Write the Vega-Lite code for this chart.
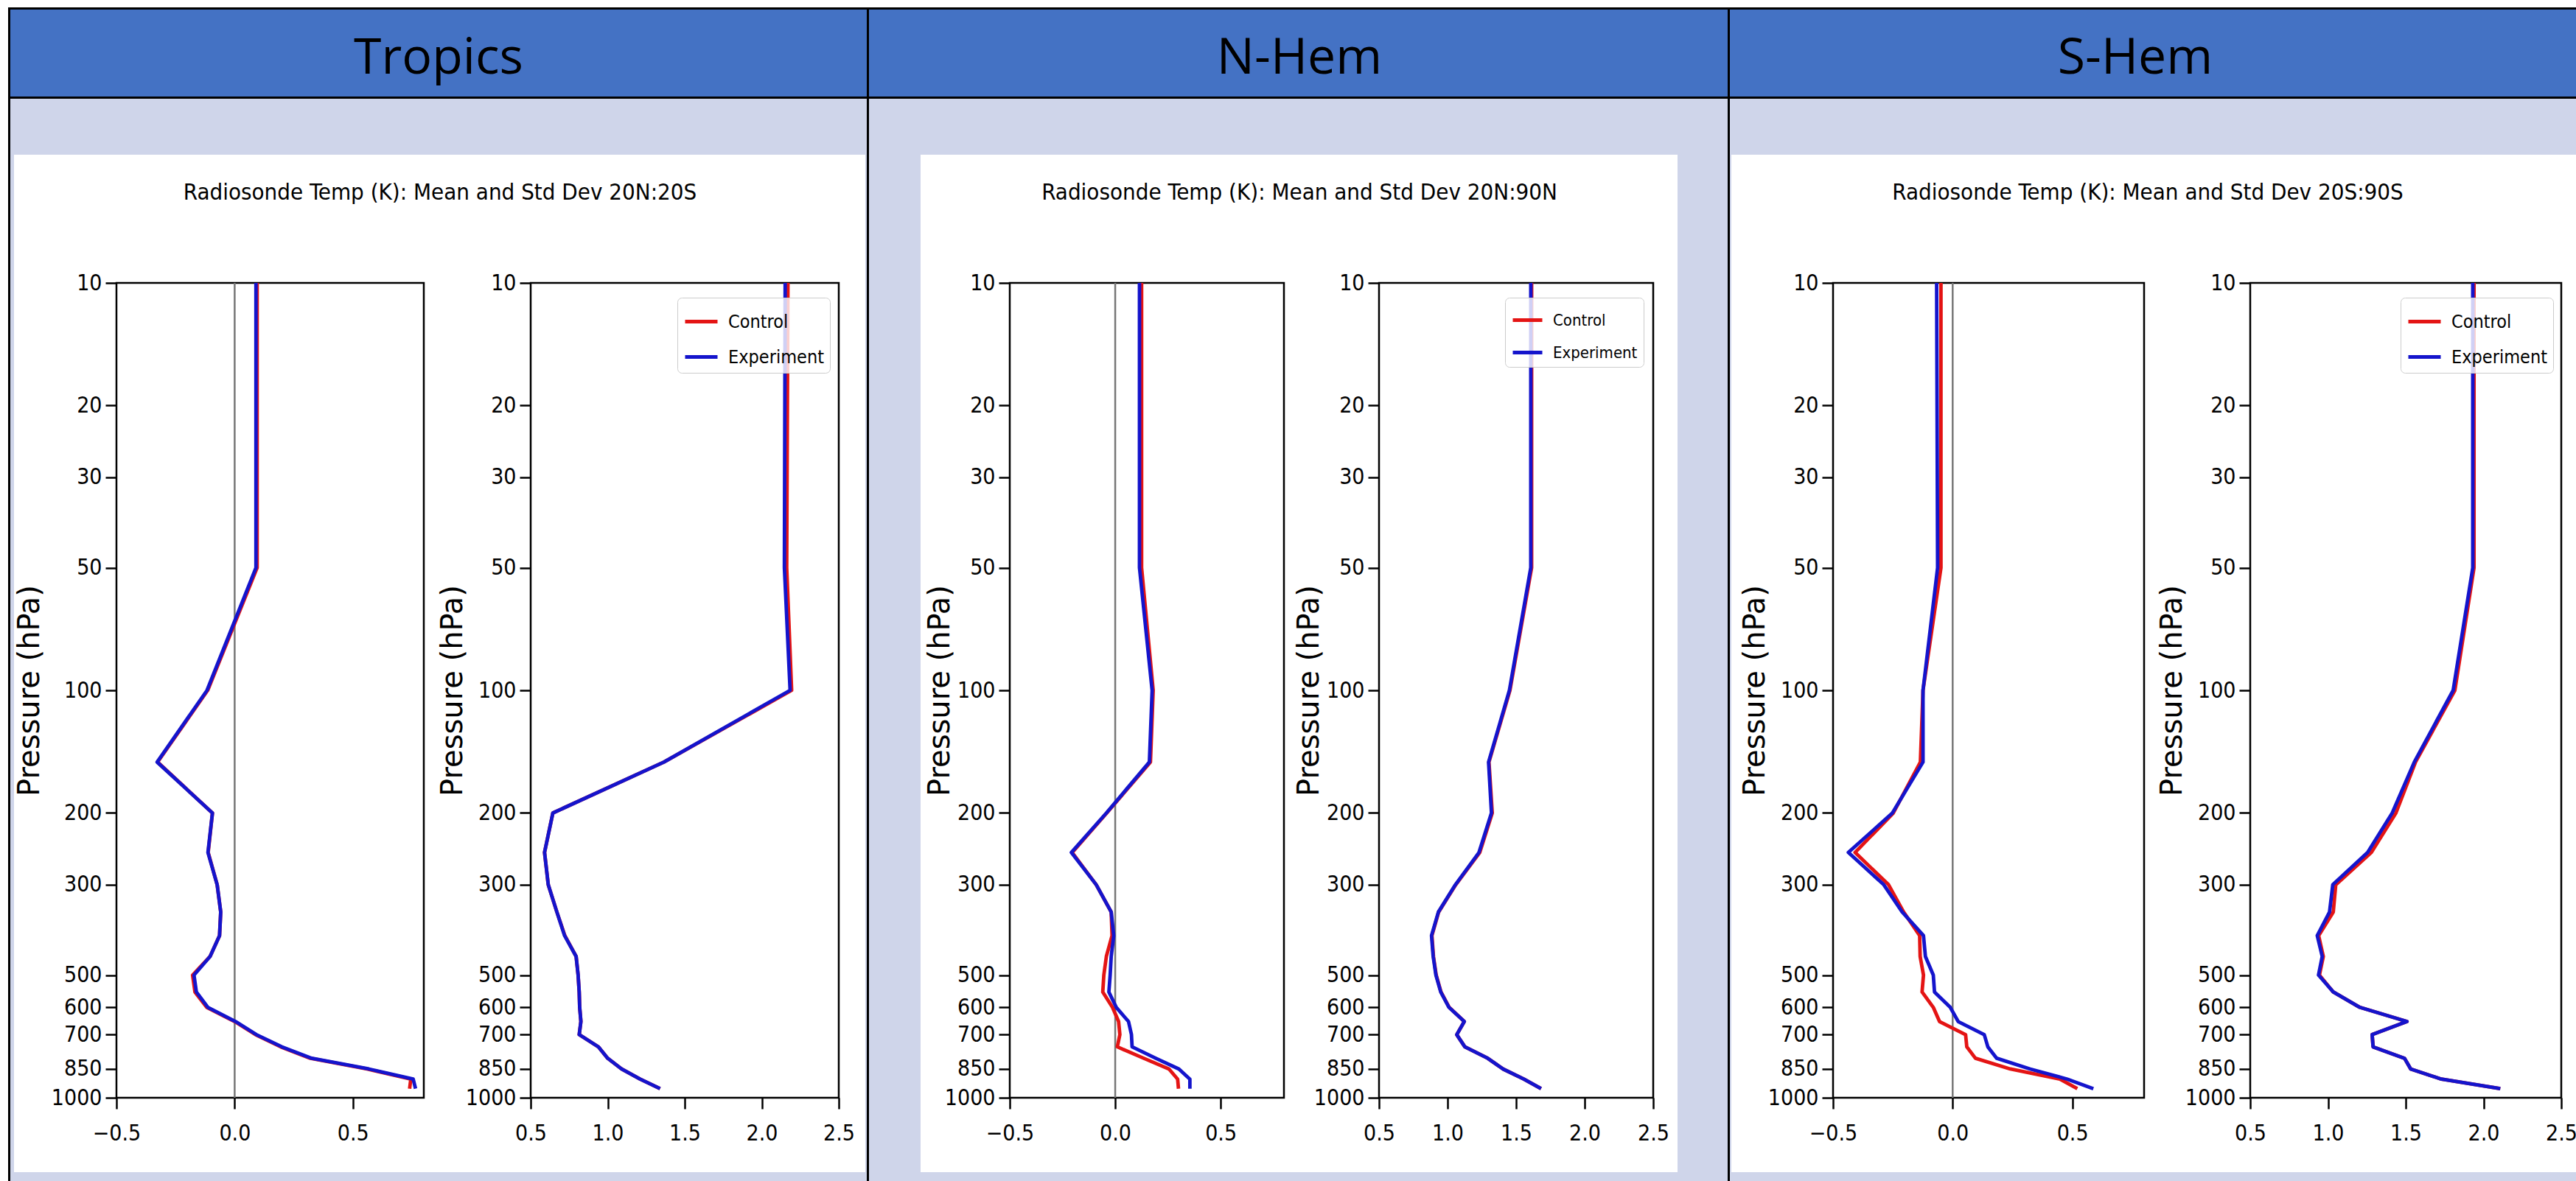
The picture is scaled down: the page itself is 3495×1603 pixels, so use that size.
{
  "$schema": "https://vega.github.io/schema/vega-lite/v6.json",
  "background": "white",
  "padding": {"left": 11, "top": 10, "right": 0, "bottom": 0},
  "columns": 23,
  "spacing": 0,
  "bounds": "flush",
  "align": "each",
  "resolve": {"scale": {"color": "independent"}, "legend": {"color": "independent"}},
  "config": {
    "view": {"stroke": null},
    "axis": {
      "labelFont": "Liberation Sans Narrow, DejaVu Sans Condensed, Arial Narrow, sans-serif",
      "labelFontSize": 30, "labelColor": "#000", "tickColor": "#000", "tickWidth": 2.5, "tickSize": 15,
      "domain": false, "grid": false, "labelFlush": false, "labelOverlap": false,
      "titleFont": "DejaVu Sans", "titleFontSize": 40, "titleFontWeight": "normal", "titleColor": "#000"
    },
    "axisX": {"labelPadding": 18},
    "axisY": {"labelPadding": 5},
    "legend": {
      "symbolType": "stroke", "symbolSize": 1936, "symbolStrokeWidth": 4.8,
      "labelFont": "Liberation Sans Narrow, DejaVu Sans Condensed, Arial Narrow, sans-serif",
      "labelFontSize": 25, "labelColor": "#000", "labelOffset": 12, "rowPadding": 10, "padding": 8,
      "strokeColor": "#cccccc", "fillColor": "rgba(255,255,255,0.8)", "cornerRadius": 6
    }
  },
  "datasets": {
    "tropics": [
      {"p":10,"run":"Control","mean":0.095,"sd":2.170},{"p":10,"run":"Experiment","mean":0.090,"sd":2.152},
      {"p":50,"run":"Control","mean":0.095,"sd":2.162},{"p":50,"run":"Experiment","mean":0.090,"sd":2.147},
      {"p":100,"run":"Control","mean":-0.114,"sd":2.194},{"p":100,"run":"Experiment","mean":-0.117,"sd":2.184},
      {"p":150,"run":"Control","mean":-0.326,"sd":1.365},{"p":150,"run":"Experiment","mean":-0.328,"sd":1.365},
      {"p":200,"run":"Control","mean":-0.094,"sd":0.644},{"p":200,"run":"Experiment","mean":-0.094,"sd":0.644},
      {"p":250,"run":"Control","mean":-0.112,"sd":0.590},{"p":250,"run":"Experiment","mean":-0.113,"sd":0.590},
      {"p":300,"run":"Control","mean":-0.074,"sd":0.614},{"p":300,"run":"Experiment","mean":-0.074,"sd":0.614},
      {"p":350,"run":"Control","mean":-0.059,"sd":0.670},{"p":350,"run":"Experiment","mean":-0.059,"sd":0.670},
      {"p":400,"run":"Control","mean":-0.064,"sd":0.722},{"p":400,"run":"Experiment","mean":-0.064,"sd":0.720},
      {"p":450,"run":"Control","mean":-0.104,"sd":0.795},{"p":450,"run":"Experiment","mean":-0.104,"sd":0.795},
      {"p":500,"run":"Control","mean":-0.178,"sd":0.808},{"p":500,"run":"Experiment","mean":-0.172,"sd":0.808},
      {"p":550,"run":"Control","mean":-0.168,"sd":0.815},{"p":550,"run":"Experiment","mean":-0.162,"sd":0.815},
      {"p":600,"run":"Control","mean":-0.118,"sd":0.818},{"p":600,"run":"Experiment","mean":-0.113,"sd":0.818},
      {"p":650,"run":"Control","mean":0.000,"sd":0.826},{"p":650,"run":"Experiment","mean":0.004,"sd":0.826},
      {"p":700,"run":"Control","mean":0.088,"sd":0.815},{"p":700,"run":"Experiment","mean":0.092,"sd":0.815},
      {"p":750,"run":"Control","mean":0.195,"sd":0.940},{"p":750,"run":"Experiment","mean":0.200,"sd":0.940},
      {"p":800,"run":"Control","mean":0.320,"sd":1.000},{"p":800,"run":"Experiment","mean":0.326,"sd":1.000},
      {"p":850,"run":"Control","mean":0.560,"sd":1.090},{"p":850,"run":"Experiment","mean":0.568,"sd":1.090},
      {"p":900,"run":"Control","mean":0.745,"sd":1.210},{"p":900,"run":"Experiment","mean":0.755,"sd":1.210},
      {"p":950,"run":"Control","mean":0.740,"sd":1.340},{"p":950,"run":"Experiment","mean":0.765,"sd":1.340}
    ],
    "nhem": [
      {"p":10,"run":"Control","mean":0.125,"sd":1.613},{"p":10,"run":"Experiment","mean":0.115,"sd":1.607},
      {"p":50,"run":"Control","mean":0.125,"sd":1.613},{"p":50,"run":"Experiment","mean":0.115,"sd":1.607},
      {"p":100,"run":"Control","mean":0.180,"sd":1.455},{"p":100,"run":"Experiment","mean":0.175,"sd":1.451},
      {"p":150,"run":"Control","mean":0.167,"sd":1.302},{"p":150,"run":"Experiment","mean":0.162,"sd":1.299},
      {"p":200,"run":"Control","mean":-0.040,"sd":1.326},{"p":200,"run":"Experiment","mean":-0.042,"sd":1.320},
      {"p":250,"run":"Control","mean":-0.204,"sd":1.235},{"p":250,"run":"Experiment","mean":-0.208,"sd":1.229},
      {"p":300,"run":"Control","mean":-0.090,"sd":1.060},{"p":300,"run":"Experiment","mean":-0.090,"sd":1.057},
      {"p":350,"run":"Control","mean":-0.019,"sd":0.935},{"p":350,"run":"Experiment","mean":-0.019,"sd":0.933},
      {"p":400,"run":"Control","mean":-0.015,"sd":0.886},{"p":400,"run":"Experiment","mean":-0.007,"sd":0.883},
      {"p":450,"run":"Control","mean":-0.042,"sd":0.897},{"p":450,"run":"Experiment","mean":-0.019,"sd":0.895},
      {"p":500,"run":"Control","mean":-0.054,"sd":0.917},{"p":500,"run":"Experiment","mean":-0.024,"sd":0.915},
      {"p":550,"run":"Control","mean":-0.059,"sd":0.952},{"p":550,"run":"Experiment","mean":-0.030,"sd":0.950},
      {"p":600,"run":"Control","mean":-0.013,"sd":1.012},{"p":600,"run":"Experiment","mean":0.005,"sd":1.010},
      {"p":650,"run":"Control","mean":0.016,"sd":1.122},{"p":650,"run":"Experiment","mean":0.063,"sd":1.122},
      {"p":700,"run":"Control","mean":0.022,"sd":1.067},{"p":700,"run":"Experiment","mean":0.077,"sd":1.067},
      {"p":750,"run":"Control","mean":0.010,"sd":1.126},{"p":750,"run":"Experiment","mean":0.080,"sd":1.126},
      {"p":800,"run":"Control","mean":0.135,"sd":1.293},{"p":800,"run":"Experiment","mean":0.192,"sd":1.293},
      {"p":850,"run":"Control","mean":0.255,"sd":1.405},{"p":850,"run":"Experiment","mean":0.302,"sd":1.405},
      {"p":900,"run":"Control","mean":0.296,"sd":1.556},{"p":900,"run":"Experiment","mean":0.354,"sd":1.556},
      {"p":950,"run":"Control","mean":0.300,"sd":1.682},{"p":950,"run":"Experiment","mean":0.354,"sd":1.682}
    ],
    "shem": [
      {"p":10,"run":"Control","mean":-0.049,"sd":1.939},{"p":10,"run":"Experiment","mean":-0.067,"sd":1.931},
      {"p":50,"run":"Control","mean":-0.049,"sd":1.939},{"p":50,"run":"Experiment","mean":-0.063,"sd":1.931},
      {"p":100,"run":"Control","mean":-0.124,"sd":1.816},{"p":100,"run":"Experiment","mean":-0.124,"sd":1.805},
      {"p":150,"run":"Control","mean":-0.135,"sd":1.563},{"p":150,"run":"Experiment","mean":-0.124,"sd":1.555},
      {"p":200,"run":"Control","mean":-0.248,"sd":1.437},{"p":200,"run":"Experiment","mean":-0.252,"sd":1.413},
      {"p":250,"run":"Control","mean":-0.408,"sd":1.279},{"p":250,"run":"Experiment","mean":-0.436,"sd":1.255},
      {"p":300,"run":"Control","mean":-0.268,"sd":1.050},{"p":300,"run":"Experiment","mean":-0.288,"sd":1.031},
      {"p":350,"run":"Control","mean":-0.205,"sd":1.034},{"p":350,"run":"Experiment","mean":-0.211,"sd":1.010},
      {"p":400,"run":"Control","mean":-0.138,"sd":0.940},{"p":400,"run":"Experiment","mean":-0.122,"sd":0.931},
      {"p":450,"run":"Control","mean":-0.136,"sd":0.970},{"p":450,"run":"Experiment","mean":-0.114,"sd":0.963},
      {"p":500,"run":"Control","mean":-0.122,"sd":0.945},{"p":500,"run":"Experiment","mean":-0.081,"sd":0.939},
      {"p":550,"run":"Control","mean":-0.128,"sd":1.034},{"p":550,"run":"Experiment","mean":-0.076,"sd":1.034},
      {"p":600,"run":"Control","mean":-0.081,"sd":1.205},{"p":600,"run":"Experiment","mean":-0.010,"sd":1.205},
      {"p":650,"run":"Control","mean":-0.055,"sd":1.508},{"p":650,"run":"Experiment","mean":0.023,"sd":1.508},
      {"p":700,"run":"Control","mean":0.054,"sd":1.284},{"p":700,"run":"Experiment","mean":0.132,"sd":1.284},
      {"p":750,"run":"Control","mean":0.059,"sd":1.290},{"p":750,"run":"Experiment","mean":0.147,"sd":1.290},
      {"p":800,"run":"Control","mean":0.095,"sd":1.492},{"p":800,"run":"Experiment","mean":0.184,"sd":1.492},
      {"p":850,"run":"Control","mean":0.241,"sd":1.532},{"p":850,"run":"Experiment","mean":0.324,"sd":1.532},
      {"p":900,"run":"Control","mean":0.448,"sd":1.729},{"p":900,"run":"Experiment","mean":0.479,"sd":1.729},
      {"p":950,"run":"Control","mean":0.521,"sd":2.108},{"p":950,"run":"Experiment","mean":0.588,"sd":2.108}
    ]
  },
  "concat": [
    {"width":3,"height":3,"data":{"values":[]},"mark":"rect","view":{"fill":"#000"}},
    {"width":5,"height":3,"data":{"values":[]},"mark":"rect","view":{"fill":"#000"}},
    {"width":139,"height":3,"data":{"values":[]},"mark":"rect","view":{"fill":"#000"}},
    {"width":417,"height":3,"data":{"values":[]},"mark":"rect","view":{"fill":"#000"}},
    {"width":145,"height":3,"data":{"values":[]},"mark":"rect","view":{"fill":"#000"}},
    {"width":418,"height":3,"data":{"values":[]},"mark":"rect","view":{"fill":"#000"}},
    {"width":36,"height":3,"data":{"values":[]},"mark":"rect","view":{"fill":"#000"}},
    {"width":2,"height":3,"data":{"values":[]},"mark":"rect","view":{"fill":"#000"}},
    {"width":3,"height":3,"data":{"values":[]},"mark":"rect","view":{"fill":"#000"}},
    {"width":70,"height":3,"data":{"values":[]},"mark":"rect","view":{"fill":"#000"}},
    {"width":121,"height":3,"data":{"values":[]},"mark":"rect","view":{"fill":"#000"}},
    {"width":372,"height":3,"data":{"values":[]},"mark":"rect","view":{"fill":"#000"}},
    {"width":129,"height":3,"data":{"values":[]},"mark":"rect","view":{"fill":"#000"}},
    {"width":372,"height":3,"data":{"values":[]},"mark":"rect","view":{"fill":"#000"}},
    {"width":33,"height":3,"data":{"values":[]},"mark":"rect","view":{"fill":"#000"}},
    {"width":68,"height":3,"data":{"values":[]},"mark":"rect","view":{"fill":"#000"}},
    {"width":3,"height":3,"data":{"values":[]},"mark":"rect","view":{"fill":"#000"}},
    {"width":2,"height":3,"data":{"values":[]},"mark":"rect","view":{"fill":"#000"}},
    {"width":138,"height":3,"data":{"values":[]},"mark":"rect","view":{"fill":"#000"}},
    {"width":422,"height":3,"data":{"values":[]},"mark":"rect","view":{"fill":"#000"}},
    {"width":144,"height":3,"data":{"values":[]},"mark":"rect","view":{"fill":"#000"}},
    {"width":422,"height":3,"data":{"values":[]},"mark":"rect","view":{"fill":"#000"}},
    {"width":20,"height":3,"data":{"values":[]},"mark":"rect","view":{"fill":"#000"}},

    {"width":3,"height":118,"data":{"values":[]},"mark":"rect","view":{"fill":"#000"}},
    {"width":5,"height":118,"data":{"values":[]},"mark":"rect","view":{"fill":"#4472C4"}},
    {"width":139,"height":118,"data":{"values":[]},"mark":"rect","view":{"fill":"#4472C4"}},
    {"width":417,"height":118,"data":{"values":[]},"mark":"rect","view":{"fill":"#4472C4"}},
    {"width":145,"height":118,"data":{"values":[{"label":"Tropics"}]},"mark":{"type":"text","font":"Open Sans","fontSize":68,"color":"#000","baseline":"alphabetic","dx":-52.5,"dy":28},"encoding":{"text":{"field":"label"}},"view":{"fill":"#4472C4"}},
    {"width":418,"height":118,"data":{"values":[]},"mark":"rect","view":{"fill":"#4472C4"}},
    {"width":36,"height":118,"data":{"values":[]},"mark":"rect","view":{"fill":"#4472C4"}},
    {"width":2,"height":118,"data":{"values":[]},"mark":"rect","view":{"fill":"#4472C4"}},
    {"width":3,"height":118,"data":{"values":[]},"mark":"rect","view":{"fill":"#000"}},
    {"width":70,"height":118,"data":{"values":[]},"mark":"rect","view":{"fill":"#4472C4"}},
    {"width":121,"height":118,"data":{"values":[]},"mark":"rect","view":{"fill":"#4472C4"}},
    {"width":372,"height":118,"data":{"values":[]},"mark":"rect","view":{"fill":"#4472C4"}},
    {"width":129,"height":118,"data":{"values":[]},"mark":"rect","view":{"fill":"#4472C4"}},
    {"width":372,"height":118,"data":{"values":[{"label":"N-Hem"}]},"mark":{"type":"text","font":"Open Sans","fontSize":68,"color":"#000","baseline":"alphabetic","dx":-294,"dy":28},"encoding":{"text":{"field":"label"}},"view":{"fill":"#4472C4"}},
    {"width":33,"height":118,"data":{"values":[]},"mark":"rect","view":{"fill":"#4472C4"}},
    {"width":68,"height":118,"data":{"values":[]},"mark":"rect","view":{"fill":"#4472C4"}},
    {"width":3,"height":118,"data":{"values":[]},"mark":"rect","view":{"fill":"#000"}},
    {"width":2,"height":118,"data":{"values":[]},"mark":"rect","view":{"fill":"#4472C4"}},
    {"width":138,"height":118,"data":{"values":[]},"mark":"rect","view":{"fill":"#4472C4"}},
    {"width":422,"height":118,"data":{"values":[]},"mark":"rect","view":{"fill":"#4472C4"}},
    {"width":144,"height":118,"data":{"values":[{"label":"S-Hem"}]},"mark":{"type":"text","font":"Open Sans","fontSize":68,"color":"#000","baseline":"alphabetic","dx":-84,"dy":28},"encoding":{"text":{"field":"label"}},"view":{"fill":"#4472C4"}},
    {"width":422,"height":118,"data":{"values":[]},"mark":"rect","view":{"fill":"#4472C4"}},
    {"width":20,"height":118,"data":{"values":[]},"mark":"rect","view":{"fill":"#4472C4"}},

    {"width":3,"height":3,"data":{"values":[]},"mark":"rect","view":{"fill":"#000"}},
    {"width":5,"height":3,"data":{"values":[]},"mark":"rect","view":{"fill":"#000"}},
    {"width":139,"height":3,"data":{"values":[]},"mark":"rect","view":{"fill":"#000"}},
    {"width":417,"height":3,"data":{"values":[]},"mark":"rect","view":{"fill":"#000"}},
    {"width":145,"height":3,"data":{"values":[]},"mark":"rect","view":{"fill":"#000"}},
    {"width":418,"height":3,"data":{"values":[]},"mark":"rect","view":{"fill":"#000"}},
    {"width":36,"height":3,"data":{"values":[]},"mark":"rect","view":{"fill":"#000"}},
    {"width":2,"height":3,"data":{"values":[]},"mark":"rect","view":{"fill":"#000"}},
    {"width":3,"height":3,"data":{"values":[]},"mark":"rect","view":{"fill":"#000"}},
    {"width":70,"height":3,"data":{"values":[]},"mark":"rect","view":{"fill":"#000"}},
    {"width":121,"height":3,"data":{"values":[]},"mark":"rect","view":{"fill":"#000"}},
    {"width":372,"height":3,"data":{"values":[]},"mark":"rect","view":{"fill":"#000"}},
    {"width":129,"height":3,"data":{"values":[]},"mark":"rect","view":{"fill":"#000"}},
    {"width":372,"height":3,"data":{"values":[]},"mark":"rect","view":{"fill":"#000"}},
    {"width":33,"height":3,"data":{"values":[]},"mark":"rect","view":{"fill":"#000"}},
    {"width":68,"height":3,"data":{"values":[]},"mark":"rect","view":{"fill":"#000"}},
    {"width":3,"height":3,"data":{"values":[]},"mark":"rect","view":{"fill":"#000"}},
    {"width":2,"height":3,"data":{"values":[]},"mark":"rect","view":{"fill":"#000"}},
    {"width":138,"height":3,"data":{"values":[]},"mark":"rect","view":{"fill":"#000"}},
    {"width":422,"height":3,"data":{"values":[]},"mark":"rect","view":{"fill":"#000"}},
    {"width":144,"height":3,"data":{"values":[]},"mark":"rect","view":{"fill":"#000"}},
    {"width":422,"height":3,"data":{"values":[]},"mark":"rect","view":{"fill":"#000"}},
    {"width":20,"height":3,"data":{"values":[]},"mark":"rect","view":{"fill":"#000"}},

    {"width":3,"height":76,"data":{"values":[]},"mark":"rect","view":{"fill":"#000"}},
    {"width":5,"height":76,"data":{"values":[]},"mark":"rect","view":{"fill":"#CFD5EA"}},
    {"width":139,"height":76,"data":{"values":[]},"mark":"rect","view":{"fill":"#CFD5EA"}},
    {"width":417,"height":76,"data":{"values":[]},"mark":"rect","view":{"fill":"#CFD5EA"}},
    {"width":145,"height":76,"data":{"values":[]},"mark":"rect","view":{"fill":"#CFD5EA"}},
    {"width":418,"height":76,"data":{"values":[]},"mark":"rect","view":{"fill":"#CFD5EA"}},
    {"width":36,"height":76,"data":{"values":[]},"mark":"rect","view":{"fill":"#CFD5EA"}},
    {"width":2,"height":76,"data":{"values":[]},"mark":"rect","view":{"fill":"#CFD5EA"}},
    {"width":3,"height":76,"data":{"values":[]},"mark":"rect","view":{"fill":"#000"}},
    {"width":70,"height":76,"data":{"values":[]},"mark":"rect","view":{"fill":"#CFD5EA"}},
    {"width":121,"height":76,"data":{"values":[]},"mark":"rect","view":{"fill":"#CFD5EA"}},
    {"width":372,"height":76,"data":{"values":[]},"mark":"rect","view":{"fill":"#CFD5EA"}},
    {"width":129,"height":76,"data":{"values":[]},"mark":"rect","view":{"fill":"#CFD5EA"}},
    {"width":372,"height":76,"data":{"values":[]},"mark":"rect","view":{"fill":"#CFD5EA"}},
    {"width":33,"height":76,"data":{"values":[]},"mark":"rect","view":{"fill":"#CFD5EA"}},
    {"width":68,"height":76,"data":{"values":[]},"mark":"rect","view":{"fill":"#CFD5EA"}},
    {"width":3,"height":76,"data":{"values":[]},"mark":"rect","view":{"fill":"#000"}},
    {"width":2,"height":76,"data":{"values":[]},"mark":"rect","view":{"fill":"#CFD5EA"}},
    {"width":138,"height":76,"data":{"values":[]},"mark":"rect","view":{"fill":"#CFD5EA"}},
    {"width":422,"height":76,"data":{"values":[]},"mark":"rect","view":{"fill":"#CFD5EA"}},
    {"width":144,"height":76,"data":{"values":[]},"mark":"rect","view":{"fill":"#CFD5EA"}},
    {"width":422,"height":76,"data":{"values":[]},"mark":"rect","view":{"fill":"#CFD5EA"}},
    {"width":20,"height":76,"data":{"values":[]},"mark":"rect","view":{"fill":"#CFD5EA"}},

    {"width":3,"height":174,"data":{"values":[]},"mark":"rect","view":{"fill":"#000"}},
    {"width":5,"height":174,"data":{"values":[]},"mark":"rect","view":{"fill":"#CFD5EA"}},
    {"width":139,"height":174,"data":{"values":[]},"mark":"rect"},
    {"width":417,"height":174,"data":{"values":[]},"mark":"rect"},
    {"width":145,"height":174,"data":{"values":[{"label":"Radiosonde Temp (K): Mean and Std Dev 20N:20S"}]},"mark":{"type":"text","font":"Liberation Sans Narrow, DejaVu Sans Condensed, Arial Narrow, sans-serif","fontSize":31,"color":"#000","baseline":"alphabetic","dx":-50.5,"dy":-26},"encoding":{"text":{"field":"label"}}},
    {"width":418,"height":174,"data":{"values":[]},"mark":"rect"},
    {"width":36,"height":174,"data":{"values":[]},"mark":"rect"},
    {"width":2,"height":174,"data":{"values":[]},"mark":"rect","view":{"fill":"#CFD5EA"}},
    {"width":3,"height":174,"data":{"values":[]},"mark":"rect","view":{"fill":"#000"}},
    {"width":70,"height":174,"data":{"values":[]},"mark":"rect","view":{"fill":"#CFD5EA"}},
    {"width":121,"height":174,"data":{"values":[]},"mark":"rect"},
    {"width":372,"height":174,"data":{"values":[]},"mark":"rect"},
    {"width":129,"height":174,"data":{"values":[{"label":"Radiosonde Temp (K): Mean and Std Dev 20N:90N"}]},"mark":{"type":"text","font":"Liberation Sans Narrow, DejaVu Sans Condensed, Arial Narrow, sans-serif","fontSize":31,"color":"#000","baseline":"alphabetic","dx":-43.5,"dy":-26},"encoding":{"text":{"field":"label"}}},
    {"width":372,"height":174,"data":{"values":[]},"mark":"rect"},
    {"width":33,"height":174,"data":{"values":[]},"mark":"rect"},
    {"width":68,"height":174,"data":{"values":[]},"mark":"rect","view":{"fill":"#CFD5EA"}},
    {"width":3,"height":174,"data":{"values":[]},"mark":"rect","view":{"fill":"#000"}},
    {"width":2,"height":174,"data":{"values":[]},"mark":"rect","view":{"fill":"#CFD5EA"}},
    {"width":138,"height":174,"data":{"values":[]},"mark":"rect"},
    {"width":422,"height":174,"data":{"values":[]},"mark":"rect"},
    {"width":144,"height":174,"data":{"values":[{"label":"Radiosonde Temp (K): Mean and Std Dev 20S:90S"}]},"mark":{"type":"text","font":"Liberation Sans Narrow, DejaVu Sans Condensed, Arial Narrow, sans-serif","fontSize":31,"color":"#000","baseline":"alphabetic","dx":-67,"dy":-26},"encoding":{"text":{"field":"label"}}},
    {"width":422,"height":174,"data":{"values":[]},"mark":"rect"},
    {"width":20,"height":174,"data":{"values":[]},"mark":"rect"},

    {"width":3,"height":1106,"data":{"values":[]},"mark":"rect","view":{"fill":"#000"}},
    {"width":5,"height":1106,"data":{"values":[]},"mark":"rect","view":{"fill":"#CFD5EA"}},
    {"width":139,"height":1106,"data":{"values":[]},"mark":"rect"},
    {"width":417,"height":1106,"view":{"stroke":"#000","strokeWidth":2.5},
     "encoding":{"x":{"field":"mean","type":"quantitative","scale":{"domain":[-0.5,0.8],"nice":false,"zero":false},"axis":{"values":[-0.5,0,0.5],"format":".1f","title":null}}},
     "layer":[
       {"data":{"values":[{"mean":0}]},"mark":{"type":"rule","color":"#777777","strokeWidth":2.5},"encoding":{}},
       {"data":{"name":"tropics"},"mark":{"type":"line","strokeWidth":4.8,"strokeJoin":"round","clip":true},
        "encoding":{
          "y":{"field":"p","type":"quantitative","scale":{"type":"log","domain":[10,1000],"reverse":true,"nice":false},"axis":{"values":[10,20,30,50,100,200,300,500,600,700,850,1000],"format":"d","title":"Pressure (hPa)","titleX":-118,"titleBaseline":"middle"}},
          "color":{"field":"run","type":"nominal","scale":{"domain":["Control","Experiment"],"range":["#e41414","#1414cc"]},"legend":null},
          "order":{"field":"p","type":"quantitative"}}}
     ]},
    {"width":145,"height":1106,"data":{"values":[]},"mark":"rect"},
    {"width":418,"height":1106,"view":{"stroke":"#000","strokeWidth":2.5},"data":{"name":"tropics"},
     "mark":{"type":"line","strokeWidth":4.8,"strokeJoin":"round","clip":true},
     "encoding":{
       "x":{"field":"sd","type":"quantitative","scale":{"domain":[0.5,2.5],"nice":false,"zero":false},"axis":{"values":[0.5,1,1.5,2,2.5],"format":".1f","title":null}},
       "y":{"field":"p","type":"quantitative","scale":{"type":"log","domain":[10,1000],"reverse":true,"nice":false},"axis":{"values":[10,20,30,50,100,200,300,500,600,700,850,1000],"format":"d","title":"Pressure (hPa)","titleX":-106,"titleBaseline":"middle"}},
       "color":{"field":"run","type":"nominal","scale":{"domain":["Control","Experiment"],"range":["#e41414","#1414cc"]},"legend":{"title":null,"orient":"none","legendX":199,"legendY":20}},
       "order":{"field":"p","type":"quantitative"}}},
    {"width":36,"height":1106,"data":{"values":[]},"mark":"rect"},
    {"width":2,"height":1106,"data":{"values":[]},"mark":"rect","view":{"fill":"#CFD5EA"}},
    {"width":3,"height":1106,"data":{"values":[]},"mark":"rect","view":{"fill":"#000"}},
    {"width":70,"height":1106,"data":{"values":[]},"mark":"rect","view":{"fill":"#CFD5EA"}},
    {"width":121,"height":1106,"data":{"values":[]},"mark":"rect"},
    {"width":372,"height":1106,"view":{"stroke":"#000","strokeWidth":2.5},
     "encoding":{"x":{"field":"mean","type":"quantitative","scale":{"domain":[-0.5,0.8],"nice":false,"zero":false},"axis":{"values":[-0.5,0,0.5],"format":".1f","title":null}}},
     "layer":[
       {"data":{"values":[{"mean":0}]},"mark":{"type":"rule","color":"#777777","strokeWidth":2.5},"encoding":{}},
       {"data":{"name":"nhem"},"mark":{"type":"line","strokeWidth":4.8,"strokeJoin":"round","clip":true},
        "encoding":{
          "y":{"field":"p","type":"quantitative","scale":{"type":"log","domain":[10,1000],"reverse":true,"nice":false},"axis":{"values":[10,20,30,50,100,200,300,500,600,700,850,1000],"format":"d","title":"Pressure (hPa)","titleX":-95,"titleBaseline":"middle"}},
          "color":{"field":"run","type":"nominal","scale":{"domain":["Control","Experiment"],"range":["#e41414","#1414cc"]},"legend":null},
          "order":{"field":"p","type":"quantitative"}}}
     ]},
    {"width":129,"height":1106,"data":{"values":[]},"mark":"rect"},
    {"width":372,"height":1106,"view":{"stroke":"#000","strokeWidth":2.5},"data":{"name":"nhem"},
     "mark":{"type":"line","strokeWidth":4.8,"strokeJoin":"round","clip":true},
     "encoding":{
       "x":{"field":"sd","type":"quantitative","scale":{"domain":[0.5,2.5],"nice":false,"zero":false},"axis":{"values":[0.5,1,1.5,2,2.5],"format":".1f","title":null}},
       "y":{"field":"p","type":"quantitative","scale":{"type":"log","domain":[10,1000],"reverse":true,"nice":false},"axis":{"values":[10,20,30,50,100,200,300,500,600,700,850,1000],"format":"d","title":"Pressure (hPa)","titleX":-95,"titleBaseline":"middle"}},
       "color":{"field":"run","type":"nominal","scale":{"domain":["Control","Experiment"],"range":["#e41414","#1414cc"]},"legend":{"title":null,"orient":"none","legendX":171,"legendY":20,"labelFontSize":22,"symbolSize":1600}},
       "order":{"field":"p","type":"quantitative"}}},
    {"width":33,"height":1106,"data":{"values":[]},"mark":"rect"},
    {"width":68,"height":1106,"data":{"values":[]},"mark":"rect","view":{"fill":"#CFD5EA"}},
    {"width":3,"height":1106,"data":{"values":[]},"mark":"rect","view":{"fill":"#000"}},
    {"width":2,"height":1106,"data":{"values":[]},"mark":"rect","view":{"fill":"#CFD5EA"}},
    {"width":138,"height":1106,"data":{"values":[]},"mark":"rect"},
    {"width":422,"height":1106,"view":{"stroke":"#000","strokeWidth":2.5},
     "encoding":{"x":{"field":"mean","type":"quantitative","scale":{"domain":[-0.5,0.8],"nice":false,"zero":false},"axis":{"values":[-0.5,0,0.5],"format":".1f","title":null}}},
     "layer":[
       {"data":{"values":[{"mean":0}]},"mark":{"type":"rule","color":"#777777","strokeWidth":2.5},"encoding":{}},
       {"data":{"name":"shem"},"mark":{"type":"line","strokeWidth":4.8,"strokeJoin":"round","clip":true},
        "encoding":{
          "y":{"field":"p","type":"quantitative","scale":{"type":"log","domain":[10,1000],"reverse":true,"nice":false},"axis":{"values":[10,20,30,50,100,200,300,500,600,700,850,1000],"format":"d","title":"Pressure (hPa)","titleX":-106,"titleBaseline":"middle"}},
          "color":{"field":"run","type":"nominal","scale":{"domain":["Control","Experiment"],"range":["#e41414","#1414cc"]},"legend":null},
          "order":{"field":"p","type":"quantitative"}}}
     ]},
    {"width":144,"height":1106,"data":{"values":[]},"mark":"rect"},
    {"width":422,"height":1106,"view":{"stroke":"#000","strokeWidth":2.5},"data":{"name":"shem"},
     "mark":{"type":"line","strokeWidth":4.8,"strokeJoin":"round","clip":true},
     "encoding":{
       "x":{"field":"sd","type":"quantitative","scale":{"domain":[0.5,2.5],"nice":false,"zero":false},"axis":{"values":[0.5,1,1.5,2,2.5],"format":".1f","title":null}},
       "y":{"field":"p","type":"quantitative","scale":{"type":"log","domain":[10,1000],"reverse":true,"nice":false},"axis":{"values":[10,20,30,50,100,200,300,500,600,700,850,1000],"format":"d","title":"Pressure (hPa)","titleX":-106,"titleBaseline":"middle"}},
       "color":{"field":"run","type":"nominal","scale":{"domain":["Control","Experiment"],"range":["#e41414","#1414cc"]},"legend":{"title":null,"orient":"none","legendX":204,"legendY":20}},
       "order":{"field":"p","type":"quantitative"}}},
    {"width":20,"height":1106,"data":{"values":[]},"mark":"rect"},

    {"width":3,"height":101,"data":{"values":[]},"mark":"rect","view":{"fill":"#000"}},
    {"width":5,"height":101,"data":{"values":[]},"mark":"rect","view":{"fill":"#CFD5EA"}},
    {"width":139,"height":101,"data":{"values":[]},"mark":"rect"},
    {"width":417,"height":101,"data":{"values":[]},"mark":"rect"},
    {"width":145,"height":101,"data":{"values":[]},"mark":"rect"},
    {"width":418,"height":101,"data":{"values":[]},"mark":"rect"},
    {"width":36,"height":101,"data":{"values":[]},"mark":"rect"},
    {"width":2,"height":101,"data":{"values":[]},"mark":"rect","view":{"fill":"#CFD5EA"}},
    {"width":3,"height":101,"data":{"values":[]},"mark":"rect","view":{"fill":"#000"}},
    {"width":70,"height":101,"data":{"values":[]},"mark":"rect","view":{"fill":"#CFD5EA"}},
    {"width":121,"height":101,"data":{"values":[]},"mark":"rect"},
    {"width":372,"height":101,"data":{"values":[]},"mark":"rect"},
    {"width":129,"height":101,"data":{"values":[]},"mark":"rect"},
    {"width":372,"height":101,"data":{"values":[]},"mark":"rect"},
    {"width":33,"height":101,"data":{"values":[]},"mark":"rect"},
    {"width":68,"height":101,"data":{"values":[]},"mark":"rect","view":{"fill":"#CFD5EA"}},
    {"width":3,"height":101,"data":{"values":[]},"mark":"rect","view":{"fill":"#000"}},
    {"width":2,"height":101,"data":{"values":[]},"mark":"rect","view":{"fill":"#CFD5EA"}},
    {"width":138,"height":101,"data":{"values":[]},"mark":"rect"},
    {"width":422,"height":101,"data":{"values":[]},"mark":"rect"},
    {"width":144,"height":101,"data":{"values":[]},"mark":"rect"},
    {"width":422,"height":101,"data":{"values":[]},"mark":"rect"},
    {"width":20,"height":101,"data":{"values":[]},"mark":"rect"},

    {"width":3,"height":12,"data":{"values":[]},"mark":"rect","view":{"fill":"#000"}},
    {"width":5,"height":12,"data":{"values":[]},"mark":"rect","view":{"fill":"#CFD5EA"}},
    {"width":139,"height":12,"data":{"values":[]},"mark":"rect","view":{"fill":"#CFD5EA"}},
    {"width":417,"height":12,"data":{"values":[]},"mark":"rect","view":{"fill":"#CFD5EA"}},
    {"width":145,"height":12,"data":{"values":[]},"mark":"rect","view":{"fill":"#CFD5EA"}},
    {"width":418,"height":12,"data":{"values":[]},"mark":"rect","view":{"fill":"#CFD5EA"}},
    {"width":36,"height":12,"data":{"values":[]},"mark":"rect","view":{"fill":"#CFD5EA"}},
    {"width":2,"height":12,"data":{"values":[]},"mark":"rect","view":{"fill":"#CFD5EA"}},
    {"width":3,"height":12,"data":{"values":[]},"mark":"rect","view":{"fill":"#000"}},
    {"width":70,"height":12,"data":{"values":[]},"mark":"rect","view":{"fill":"#CFD5EA"}},
    {"width":121,"height":12,"data":{"values":[]},"mark":"rect","view":{"fill":"#CFD5EA"}},
    {"width":372,"height":12,"data":{"values":[]},"mark":"rect","view":{"fill":"#CFD5EA"}},
    {"width":129,"height":12,"data":{"values":[]},"mark":"rect","view":{"fill":"#CFD5EA"}},
    {"width":372,"height":12,"data":{"values":[]},"mark":"rect","view":{"fill":"#CFD5EA"}},
    {"width":33,"height":12,"data":{"values":[]},"mark":"rect","view":{"fill":"#CFD5EA"}},
    {"width":68,"height":12,"data":{"values":[]},"mark":"rect","view":{"fill":"#CFD5EA"}},
    {"width":3,"height":12,"data":{"values":[]},"mark":"rect","view":{"fill":"#000"}},
    {"width":2,"height":12,"data":{"values":[]},"mark":"rect","view":{"fill":"#CFD5EA"}},
    {"width":138,"height":12,"data":{"values":[]},"mark":"rect","view":{"fill":"#CFD5EA"}},
    {"width":422,"height":12,"data":{"values":[]},"mark":"rect","view":{"fill":"#CFD5EA"}},
    {"width":144,"height":12,"data":{"values":[]},"mark":"rect","view":{"fill":"#CFD5EA"}},
    {"width":422,"height":12,"data":{"values":[]},"mark":"rect","view":{"fill":"#CFD5EA"}},
    {"width":20,"height":12,"data":{"values":[]},"mark":"rect","view":{"fill":"#CFD5EA"}}
  ]
}
